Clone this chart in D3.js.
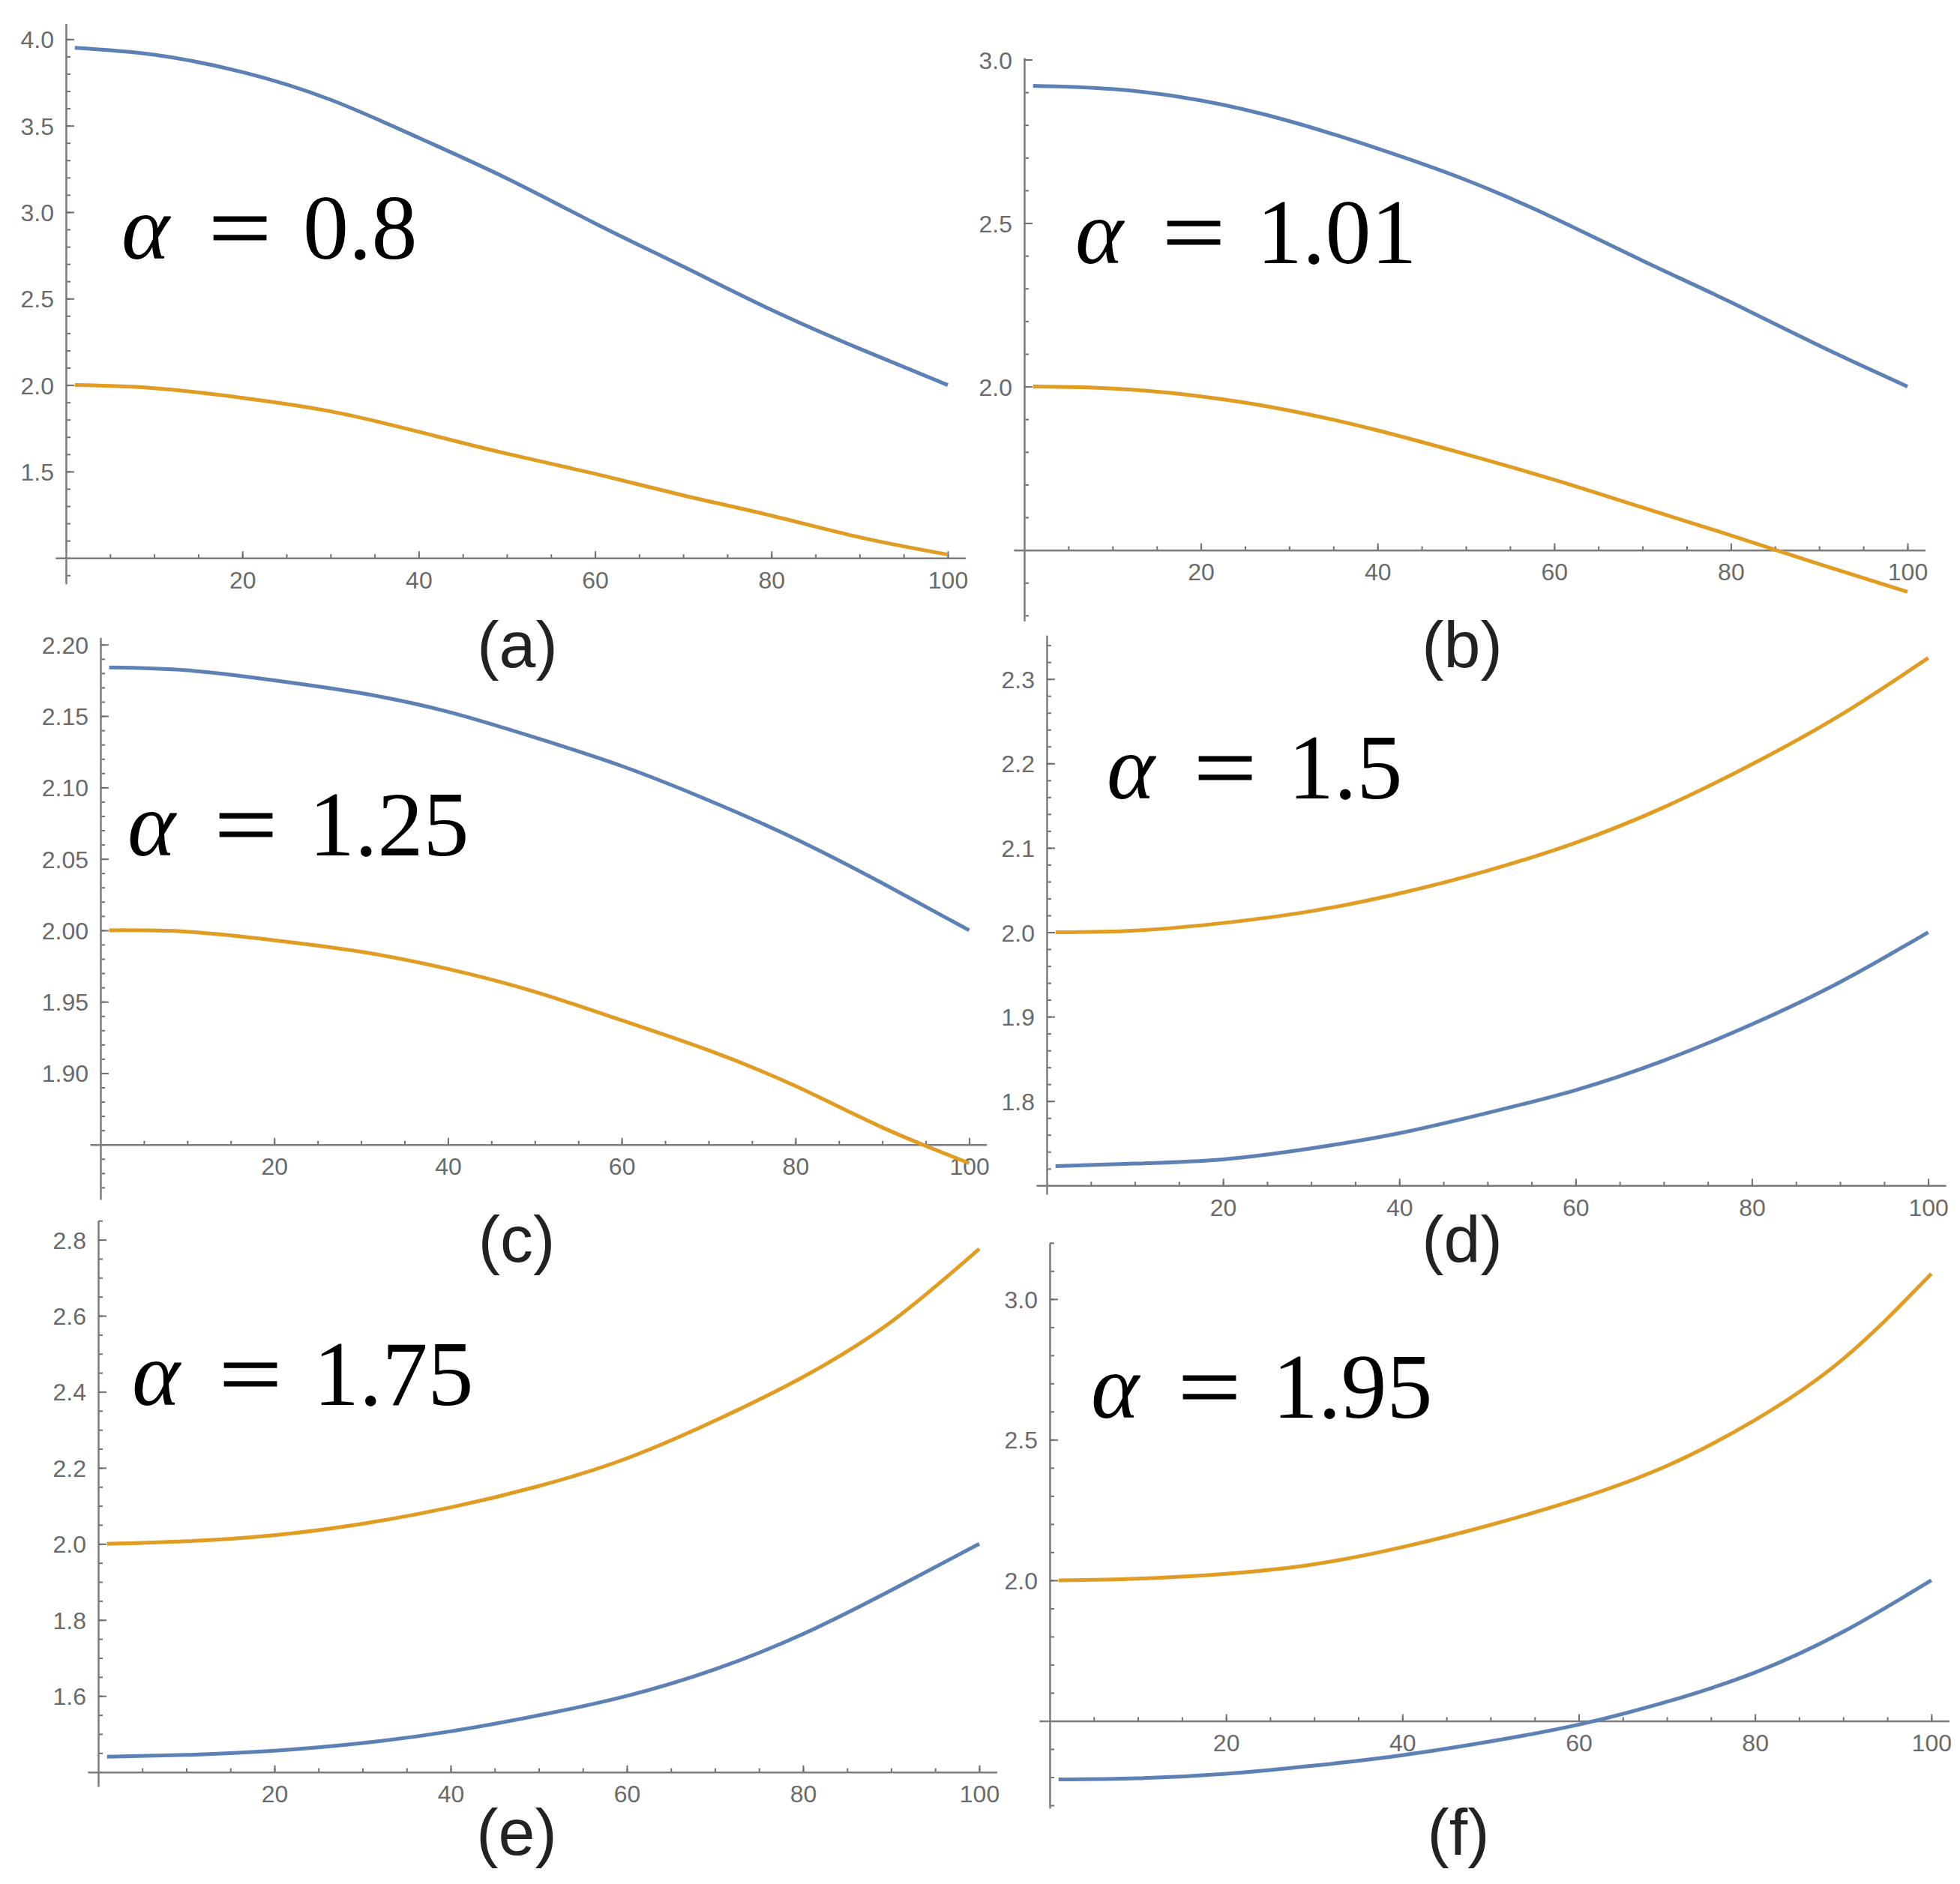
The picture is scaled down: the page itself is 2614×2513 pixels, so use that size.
<!DOCTYPE html>
<html>
<head>
<meta charset="utf-8">
<script src="https://cdn.jsdelivr.net/npm/d3@7"></script>
<style>
  body { margin: 0; background: #fff; }
  .tick text { font-family: "Liberation Sans", Arial, sans-serif; font-size: 32px; fill: #6a6a6a; }
  .domain { stroke: #7d7d7d; stroke-width: 2.5; }
  .tick line { stroke: #707070; stroke-width: 2; }
</style>
</head>
<body>
<svg id="fig"></svg>
<script>
// sample positions along the x axis (same for every panel)
const xs = [1, 10, 20, 30, 40, 50, 60, 70, 80, 90, 100];
const xTicks = [20, 40, 60, 80, 100];

// (a) alpha = 0.8
const blueA   = [3.95, 3.91, 3.81, 3.65, 3.43, 3.195, 2.935, 2.685, 2.435, 2.21, 2.00];
const orangeA = [2.00, 1.982, 1.926, 1.848, 1.73, 1.603, 1.487, 1.362, 1.245, 1.12, 1.02];
const yTicksA = ["1.5", "2.0", "2.5", "3.0", "3.5", "4.0"];

// (b) alpha = 1.01
const blueB   = [2.92, 2.91, 2.875, 2.812, 2.728, 2.632, 2.515, 2.385, 2.258, 2.125, 2.00];
const orangeB = [2.00, 1.994, 1.97, 1.927, 1.866, 1.793, 1.715, 1.63, 1.545, 1.457, 1.372];
const yTicksB = ["2.0", "2.5", "3.0"];

// (c) alpha = 1.25
const blueC   = [2.184, 2.182, 2.175, 2.166, 2.153, 2.135, 2.115, 2.091, 2.064, 2.033, 2.000];
const orangeC = [2.000, 1.999, 1.993, 1.985, 1.973, 1.957, 1.937, 1.916, 1.891, 1.862, 1.837];
const yTicksC = ["1.90", "1.95", "2.00", "2.05", "2.10", "2.15", "2.20"];

// (d) alpha = 1.5
const blueD   = [1.723, 1.726, 1.731, 1.744, 1.762, 1.786, 1.813, 1.848, 1.891, 1.941, 2.000];
const orangeD = [2.000, 2.002, 2.011, 2.025, 2.046, 2.073, 2.106, 2.148, 2.199, 2.257, 2.325];
const yTicksD = ["1.8", "1.9", "2.0", "2.1", "2.2", "2.3"];

// (e) alpha = 1.75
const blueE   = [1.44, 1.445, 1.456, 1.476, 1.507, 1.549, 1.60, 1.67, 1.763, 1.878, 2.00];
const orangeE = [2.00, 2.007, 2.023, 2.053, 2.096, 2.152, 2.225, 2.324, 2.439, 2.584, 2.776];
const yTicksE = ["1.6", "1.8", "2.0", "2.2", "2.4", "2.6", "2.8"];

// (f) alpha = 1.95
const blueF   = [1.292, 1.296, 1.312, 1.341, 1.378, 1.427, 1.487, 1.568, 1.672, 1.817, 2.00];
const orangeF = [2.00, 2.006, 2.023, 2.057, 2.118, 2.197, 2.29, 2.407, 2.57, 2.787, 3.09];
const yTicksF = ["2.0", "2.5", "3.0"];

const alphas = ["0.8", "1.01", "1.25", "1.5", "1.75", "1.95"];
const panelNames = ["(a)", "(b)", "(c)", "(d)", "(e)", "(f)"];

const BLUE = "#5E81B5", ORANGE = "#E19C24";

// layout of each panel (pixel placement)
// x0/x100: pixel of x=0 and x=100; yRef: two [value, pixel] pairs; ext: y axis extent; org: where x axis crosses
const panels = [
  {blue: blueA, orange: orangeA, ticks: yTicksA, minor: 0.1,  x0: 88,   x100: 1264,   yRef: [[4.0, 52.3],  [2.0, 513.6]],  ext: [0.85, 4.09],   org: 1.0,
   label: [162, 345],  name: [690, 890]},
  {blue: blueB, orange: orangeB, ticks: yTicksB, minor: 0.1,  x0: 1366, x100: 2544,   yRef: [[3.0, 79.5],  [2.0, 515.6]],  ext: [1.283, 3.006], org: 1.5,
   label: [1434, 351], name: [1950, 890]},
  {blue: blueC, orange: orangeC, ticks: yTicksC, minor: 0.01, x0: 134,  x100: 1292.6, yRef: [[2.2, 859.8], [2.0, 1240.9]], ext: [1.8115, 2.205], org: 1.85,
   label: [170, 1141], name: [689, 1683]},
  {blue: blueD, orange: orangeD, ticks: yTicksD, minor: 0.02, x0: 1396, x100: 2571.6, yRef: [[2.3, 905.7], [2.0, 1243.5]], ext: [1.6896, 2.352], org: 1.7,
   label: [1476, 1065], name: [1950, 1683]},
  {blue: blueE, orange: orangeE, ticks: yTicksE, minor: 0.05, x0: 131,  x100: 1306,   yRef: [[2.8, 1653.6], [1.6, 2262.2]], ext: [1.362, 2.85], org: 1.4,
   label: [176, 1874], name: [689, 2474]},
  {blue: blueF, orange: orangeF, ticks: yTicksF, minor: 0.1,  x0: 1400, x100: 2575.8, yRef: [[3.0, 1732.8], [2.0, 2107.9]], ext: [1.189, 3.20], org: 1.5,
   label: [1455, 1891], name: [1945, 2474]}
];

const W = 2614, H = 2513;
const svg = d3.select("#fig").attr("width", W).attr("height", H)
  .attr("viewBox", [0, 0, W, H]);

panels.forEach(function (p, i) {
  // x scale: axis line runs slightly past both ends
  const ux = (p.x100 - p.x0) / 100;
  const x = d3.scaleLinear().domain([-1.2, 102]).range([p.x0 - 1.2 * ux, p.x0 + 102 * ux]);

  // y scale built from two reference ticks, domain = axis extent
  const [[v1, py1], [v2, py2]] = p.yRef;
  const uy = (py2 - py1) / (v2 - v1);
  const y = d3.scaleLinear().domain(p.ext).range(p.ext.map(v => py1 + (v - v1) * uy));

  const g = svg.append("g").attr("class", "panel-" + i);

  // minor ticks
  const minorY = d3.range(Math.ceil(p.ext[0] / p.minor - 1e-6), Math.floor(p.ext[1] / p.minor + 1e-6) + 1)
    .map(k => +(k * p.minor).toFixed(4));
  g.append("g").attr("transform", "translate(" + x(0) + ",0)")
    .call(d3.axisLeft(y).tickValues(minorY).tickFormat("").tickSizeInner(-6).tickSizeOuter(0))
    .call(a => a.select(".domain").remove());
  g.append("g").attr("transform", "translate(0," + y(p.org) + ")")
    .call(d3.axisBottom(x).tickValues(d3.range(5, 101, 5)).tickFormat("").tickSizeInner(-5).tickSizeOuter(0))
    .call(a => a.select(".domain").remove());

  // major ticks + axis lines
  g.append("g").attr("transform", "translate(" + x(0) + ",0)")
    .call(d3.axisLeft(y).tickValues(p.ticks.map(Number)).tickFormat((d, j) => p.ticks[j])
      .tickSizeInner(-11).tickSizeOuter(0).tickPadding(16))
    .call(a => a.selectAll("text").attr("dy", "0.36em"));
  g.append("g").attr("transform", "translate(0," + y(p.org) + ")")
    .call(d3.axisBottom(x).tickValues(xTicks).tickSizeInner(-9).tickSizeOuter(0).tickPadding(18));

  // curves
  const line = d3.line().x(d => x(d[0])).y(d => y(d[1])).curve(d3.curveNatural);
  [[p.blue, BLUE], [p.orange, ORANGE]].forEach(function (s) {
    g.append("path")
      .datum(xs.map((xv, j) => [xv, s[0][j]]))
      .attr("d", line)
      .attr("fill", "none")
      .attr("stroke", s[1])
      .attr("stroke-width", 5)
      .attr("stroke-linejoin", "round");
  });

  // alpha label (LaTeX style)
  const L = p.label[0], B = p.label[1];
  const lab = g.append("g").attr("font-family", "'Liberation Serif', 'DejaVu Serif', serif")
    .attr("font-size", 122).attr("fill", "#000");
  lab.append("text").attr("x", L).attr("y", B).attr("font-style", "italic").text("α");
  lab.append("text").attr("x", L + 116).attr("y", B)
    .attr("textLength", 84).attr("lengthAdjust", "spacingAndGlyphs")
    .attr("stroke", "#000").attr("stroke-width", 1.2).text("=");
  lab.append("text").attr("x", L + 242).attr("y", B).text(alphas[i]);

  // panel caption
  g.append("text").attr("x", p.name[0]).attr("y", p.name[1])
    .attr("text-anchor", "middle")
    .attr("font-family", "'Liberation Sans', Arial, sans-serif")
    .attr("font-size", 88).attr("fill", "#222")
    .text(panelNames[i]);
});
</script>
</body>
</html>
